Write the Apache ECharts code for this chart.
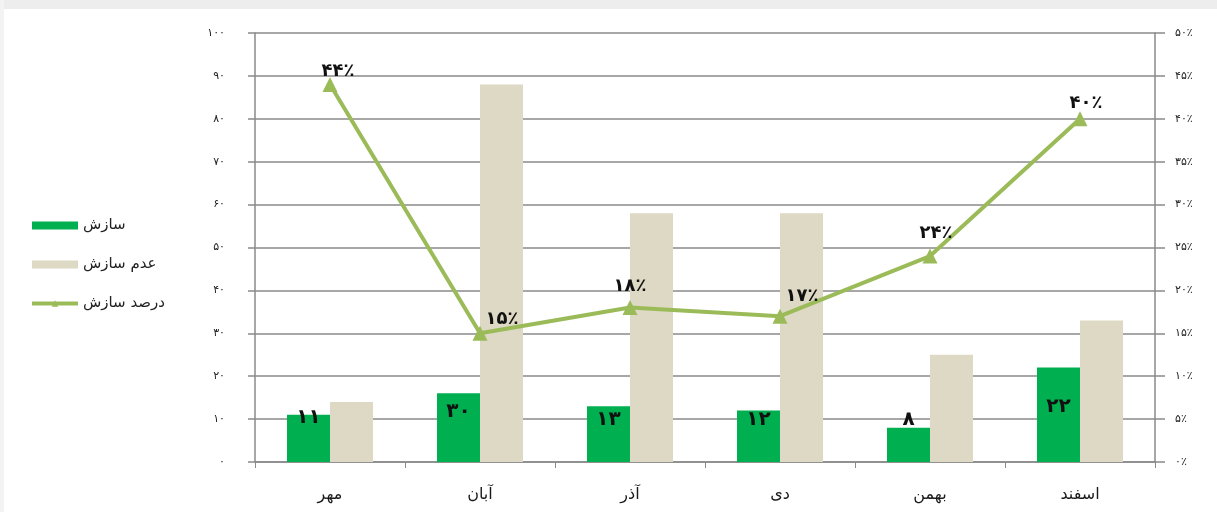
<!DOCTYPE html>
<html>
<head>
<meta charset="utf-8">
<script src="https://cdn.jsdelivr.net/npm/echarts@6/dist/echarts.min.js"></script>
<style>
  html, body { margin: 0; padding: 0; background: #fff; }
  .strip { position: absolute; left: 0; top: 0; width: 1217px; height: 9px; background: #ededed; }
  .strip-left { position: absolute; left: 0; top: 0; width: 4px; height: 512px; background: #f3f3f3; }
  #chart { position: absolute; left: 0; top: 0; width: 1217px; height: 512px; }
</style>
</head>
<body>
<div class="strip"></div>
<div class="strip-left"></div>
<div id="chart"></div>
<script>
const months = ['مهر', 'آبان', 'آذر', 'دی', 'بهمن', 'اسفند']
const agreed = [11, 16, 13, 12, 8, 22]
const agreedLabels = ['۱۱', '۳۰', '۱۳', '۱۲', '۸', '۲۲']
const notAgreed = [14, 88, 58, 58, 25, 33]
const agreedPct = [44, 15, 18, 17, 24, 40]
const pctLabels = ['۴۴٪', '۱۵٪', '۱۸٪', '۱۷٪', '۲۴٪', '۴۰٪']
const leftTicks = ['۰', '۱۰', '۲۰', '۳۰', '۴۰', '۵۰', '۶۰', '۷۰', '۸۰', '۹۰', '۱۰۰']
const rightTicks = ['۰٪', '۵٪', '۱۰٪', '۱۵٪', '۲۰٪', '۲۵٪', '۳۰٪', '۳۵٪', '۴۰٪', '۴۵٪', '۵۰٪']

const font = 'DejaVu Sans'
const green = '#00b050'
const tan = '#ddd9c4'
const olive = '#9bbb59'
const gridGray = '#8a8a8a'

// label placement per bar / point
const barLabelPos = ['insideTop', 'insideTop', 'insideTop', 'insideTop', 'top', 'insideTop']
const barLabelOffset = [[0, -9], [0, 6], [0, 2], [0, -3], [0, 4], [0, 27]]
const pctLabelOffset = [[8, 8], [22, 8], [0, 0], [22, 2], [6, -1], [6, 6]]

const chart = echarts.init(document.getElementById('chart'))

const option = {
  backgroundColor: 'transparent',
  textStyle: { fontFamily: font },
  legend: {
    orient: 'vertical',
    left: 25,
    top: 213,
    itemWidth: 46,
    itemHeight: 8,
    itemGap: 24,
    textStyle: { fontFamily: font, fontSize: 15, color: '#222' },
    data: [
      { name: 'سازش', icon: 'rect' },
      { name: 'عدم سازش', icon: 'rect' },
      { name: 'درصد سازش', lineStyle: { width: 4 } }
    ]
  },
  grid: { left: 255, right: 62, top: 33, bottom: 50 },
  xAxis: {
    type: 'category',
    data: months,
    axisLine: { lineStyle: { color: gridGray, width: 1.5 } },
    axisTick: { show: true, length: 6, lineStyle: { color: gridGray } },
    axisLabel: { fontFamily: font, fontSize: 16, color: '#1a1a1a', margin: 25 }
  },
  yAxis: [
    {
      type: 'value',
      min: 0,
      max: 100,
      interval: 10,
      axisLine: { show: true, lineStyle: { color: gridGray, width: 1.5 } },
      axisTick: { show: true, length: 7, lineStyle: { color: gridGray, width: 1.5 } },
      axisLabel: {
        fontFamily: font, fontSize: 11, color: '#222', margin: 30,
        formatter: v => leftTicks[Math.round(v / 10)]
      },
      splitLine: { lineStyle: { color: gridGray, width: 1.5 } }
    },
    {
      type: 'value',
      min: 0,
      max: 50,
      interval: 5,
      axisLine: { show: true, lineStyle: { color: gridGray, width: 1.5 } },
      axisTick: { show: true, length: 10, lineStyle: { color: gridGray, width: 1.5 } },
      axisLabel: {
        fontFamily: font, fontSize: 11, color: '#222', margin: 20,
        formatter: v => rightTicks[Math.round(v / 5)]
      },
      splitLine: { show: false }
    }
  ],
  series: [
    {
      name: 'سازش',
      type: 'bar',
      barWidth: 43,
      barGap: '0%',
      itemStyle: { color: green },
      data: agreed.map((v, i) => ({
        value: v,
        label: {
          show: true,
          position: barLabelPos[i],
          offset: barLabelOffset[i],
          formatter: agreedLabels[i],
          fontFamily: font,
          fontSize: 20,
          fontWeight: 'bold',
          color: '#111',
          distance: 2
        }
      })),
      z: 3
    },
    {
      name: 'عدم سازش',
      type: 'bar',
      barWidth: 43,
      barGap: '0%',
      itemStyle: { color: tan },
      data: notAgreed,
      z: 3
    },
    {
      name: 'درصد سازش',
      type: 'line',
      yAxisIndex: 1,
      symbol: 'triangle',
      symbolSize: 15,
      lineStyle: { color: olive, width: 4 },
      itemStyle: { color: olive },
      data: agreedPct.map((v, i) => ({
        value: v,
        label: {
          show: true,
          position: 'top',
          offset: pctLabelOffset[i],
          formatter: pctLabels[i],
          fontFamily: font,
          fontSize: 18,
          fontWeight: 'bold',
          color: '#111'
        }
      })),
      z: 5
    }
  ]
}

chart.setOption(option)
window.addEventListener('resize', () => chart.resize())
</script>
</body>
</html>
